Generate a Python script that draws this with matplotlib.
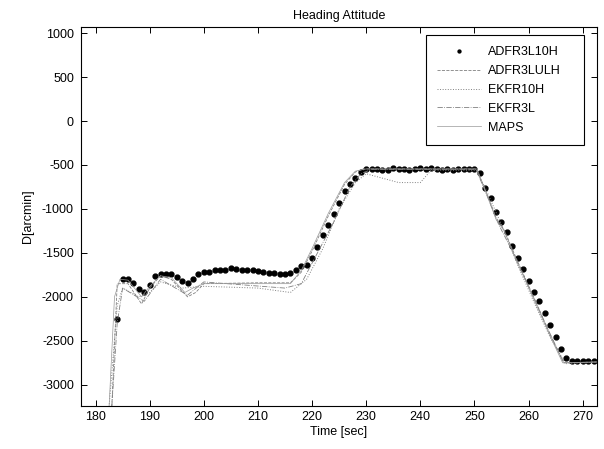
import matplotlib

matplotlib.use("Agg")
import matplotlib.pyplot as plt
from matplotlib.patches import Rectangle

plt.rcParams["font.family"] = ["Liberation Sans", "DejaVu Sans"]
plt.rcParams["font.size"] = 9
plt.rcParams["axes.unicode_minus"] = False

# ---- ADFR3L10H: one dot per second ----
adfr_t = list(range(184, 273))
adfr_d = [
    -2250, -1800, -1800, -1840, -1910, -1950, -1860, -1760, -1740, -1745,
    -1745, -1770, -1825, -1840, -1800, -1740, -1712, -1715, -1700, -1700,
    -1690, -1675, -1680, -1690, -1695, -1700, -1705, -1715, -1725, -1730,
    -1745, -1740, -1730, -1700, -1650, -1635, -1560, -1435, -1300, -1180,
    -1055, -930, -800, -720, -645, -580, -550, -550, -550, -560,
    -560, -540, -550, -545, -555, -550, -540, -545, -535, -545,
    -555, -550, -555, -545, -545, -550, -548, -595, -765, -880,
    -1030, -1150, -1260, -1420, -1560, -1680, -1820, -1940, -2050, -2180,
    -2320, -2460, -2595, -2695, -2735, -2730, -2725, -2735, -2725,
]

# ---- the other estimators (read at break points) ----
ulh_t = [183, 184, 186, 188.5, 190, 192, 194, 197, 198.5, 200, 210, 216, 218,
         220, 223, 226, 228, 229.5, 250.3, 252, 254, 255.5, 258, 261, 264,
         266.5, 273]
ulh_d = [-3250, -1850, -1850, -2080, -1900, -1760, -1800, -2000, -1950, -1850,
         -1840, -1840, -1720, -1480, -1080, -720, -580, -545, -545, -780,
         -1100, -1240, -1600, -2010, -2430, -2750, -2740]

ek10_t = [182.5, 184, 185, 188, 190, 192, 196, 200, 210, 216, 219, 222, 225,
          228, 230, 236, 240, 242, 250.3, 252, 255, 258, 261, 264, 266.8, 273]
ek10_d = [-3250, -2100, -1900, -2000, -1950, -1830, -1900, -1880, -1900, -1950,
          -1800, -1450, -1000, -700, -600, -700, -700, -560, -560, -760,
          -1180, -1640, -2060, -2460, -2760, -2740]

ek3_t = [183, 184, 185, 189, 192, 197, 200, 215, 218, 221, 224, 227, 229,
         231, 250.3, 252, 254.5, 257, 260, 263, 266.5, 273]
ek3_d = [-3250, -2300, -1900, -2050, -1800, -1980, -1830, -1900, -1850, -1500,
         -1150, -750, -600, -550, -550, -800, -1180, -1480, -1880, -2290,
         -2750, -2740]

maps_t = [182.5, 183.5, 184.5, 186, 188.5, 190, 192, 194, 196.5, 198, 200,
          210, 216, 218, 220, 223, 226, 228, 230, 250.5, 252, 254, 255.5, 258,
          261, 264, 266.3, 273]
maps_d = [-3250, -2000, -1800, -1810, -2000, -1880, -1760, -1780, -1950, -1900,
          -1850, -1850, -1850, -1700, -1450, -1050, -700, -570, -545, -545,
          -790, -1120, -1250, -1620, -2030, -2450, -2750, -2740]

fig = plt.figure(figsize=(6.04, 4.49), dpi=100)
ax = fig.add_axes([0.134, 0.096, 0.854, 0.844])

ax.plot(adfr_t, adfr_d, "k.", ms=7, label="ADFR3L10H")
ax.plot(ulh_t, ulh_d, "--", color="0.5", lw=0.6, label="ADFR3LULH")
ax.plot(ek10_t, ek10_d, ":", color="0.5", lw=0.7, label="EKFR10H")
ax.plot(ek3_t, ek3_d, "-.", color="0.5", lw=0.6, label="EKFR3L")
ax.plot(maps_t, maps_d, "-", color="0.6", lw=0.5, label="MAPS")

ax.set_xlim(177.3, 272.6)
ax.set_ylim(-3240, 1070)
ax.set_xticks(range(180, 271, 10))
ax.set_yticks(range(-3000, 1001, 500))
ax.tick_params(direction="in", length=4, width=0.7, top=True, right=True)
ax.tick_params(axis="y", pad=5)
for s in ax.spines.values():
    s.set_linewidth(0.8)

ax.set_title("Heading Attitude", fontsize=9, pad=6)
ax.set_xlabel("Time [sec]", labelpad=2)
ax.set_ylabel("D[arcmin]", labelpad=6)

leg = ax.legend(loc="upper right", bbox_to_anchor=(0.952, 0.979),
                borderaxespad=0, frameon=False, markerscale=0.6,
                handlelength=3.5, handletextpad=0.55, labelspacing=0.55,
                borderpad=0.9)

# MATLAB-style legend box: a bit wider on the right than the text
fig.canvas.draw()
bb = leg.get_window_extent().transformed(fig.transFigure.inverted())
pad_r = 12 / fig.bbox.width
ax_box = Rectangle((bb.x0, bb.y0), bb.width + pad_r, bb.height,
                   transform=fig.transFigure, fill=True, facecolor="white",
                   edgecolor="k", lw=0.8, zorder=4)
ax.add_artist(ax_box)
leg.set_zorder(5)

fig.savefig("out.png", dpi=100)
